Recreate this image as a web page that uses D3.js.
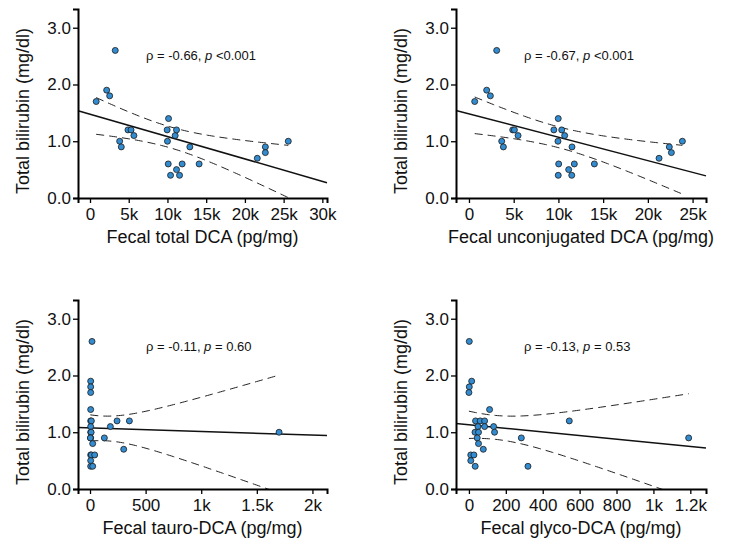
<!DOCTYPE html>
<html>
<head>
<meta charset="utf-8">
<script src="https://cdn.jsdelivr.net/npm/d3@7"></script>
<style>
  body { margin: 0; background: #fff; }
  text { font-family: Arial, "Liberation Sans", sans-serif; fill: #111; }
</style>
</head>
<body>
<svg class="canvas" width="729" height="540"></svg>
<script>
// fecal total DCA (pg/mg) vs total bilirubin (mg/dl)
const totalDCA = [800, 2150, 2540, 3260, 3830, 4040, 4900, 5300, 5670, 10140, 9960, 10000, 10100,
  10400, 11000, 11170, 11170, 11560, 11900, 12890, 14090, 21600, 22640, 22640, 25600];
const totalBili = [1.7, 1.9, 1.8, 2.6, 1.0, 0.9, 1.2, 1.2, 1.1, 1.4, 1.2, 1.0, 0.6,
  0.4, 1.1, 1.2, 0.5, 0.4, 0.6, 0.9, 0.6, 0.7, 0.9, 0.8, 1.0];

// unconjugated DCA
const unconjDCA = [640, 1980, 2390, 3100, 3660, 3850, 4890, 5080, 5490, 9490, 9980, 9950, 10030,
  9980, 10370, 10700, 11150, 11520, 11490, 11780, 14020, 21250, 22400, 22630, 23860];
const unconjBili = [1.7, 1.9, 1.8, 2.6, 1.0, 0.9, 1.2, 1.2, 1.1, 1.2, 1.4, 1.0, 0.6,
  0.4, 1.2, 1.1, 0.5, 0.9, 0.4, 0.6, 0.6, 0.7, 0.9, 0.8, 1.0];

// tauro-DCA
const tauroDCA = [18, 6, 6, 6, 6, 6, 12, 243, 354, 6, 183, 6, 1700, 10, 6, 3, 129, 24,
  303, 6, 12, 42, 6, 6, 24];
const tauroBili = [2.6, 1.9, 1.8, 1.7, 1.4, 1.2, 1.2, 1.2, 1.2, 1.1, 1.1, 1.0, 1.0, 1.0, 0.9, 0.9, 0.9, 0.8,
  0.7, 0.6, 0.6, 0.6, 0.5, 0.4, 0.4];

// glyco-DCA
const glycoDCA = [2, 15, 2, 0, 112, 36, 61, 85, 544, 49, 85, 134, 33, 52, 139, 45, 284, 1191,
  52, 78, 10, 27, 10, 34, 320];
const glycoBili = [2.6, 1.9, 1.8, 1.7, 1.4, 1.2, 1.2, 1.2, 1.2, 1.1, 1.1, 1.1, 1.0, 1.0, 1.0, 0.9, 0.9, 0.9,
  0.8, 0.7, 0.6, 0.6, 0.5, 0.4, 0.4];

const rhoLabels = ["-0.66", "-0.67", "-0.11", "-0.13"];
const pLabels = ["<0.001", "<0.001", "= 0.60", "= 0.53"];
const xTitles = ["Fecal total DCA (pg/mg)", "Fecal unconjugated DCA (pg/mg)",
  "Fecal tauro-DCA (pg/mg)", "Fecal glyco-DCA (pg/mg)"];
const yTitle = "Total bilirubin (mg/dl)";

const xTicks1 = [0, 5000, 10000, 15000, 20000, 25000, 30000];
const xTicks2 = [0, 5000, 10000, 15000, 20000, 25000];
const xTicks3 = [0, 500, 1000, 1500, 2000];
const xTicks4 = [0, 200, 400, 600, 800, 1000, 1200];
const yTicks = [0, 1, 2, 3];

const tCrit = 2.069; // t(0.975, df = 23)

const panels = [
  { xs: totalDCA, ys: totalBili, ticks: xTicks1, left: 78, bottom: 198, width: 249, xDomain: [-1550, 30600] },
  { xs: unconjDCA, ys: unconjBili, ticks: xTicks2, left: 456, bottom: 198, width: 250, xDomain: [-1450, 26500] },
  { xs: tauroDCA, ys: tauroBili, ticks: xTicks3, left: 78, bottom: 489, width: 249, xDomain: [-108, 2131] },
  { xs: glycoDCA, ys: glycoBili, ticks: xTicks4, left: 456, bottom: 489, width: 250, xDomain: [-70, 1285] },
];

const plotHeight = 189;
const svg = d3.select(".canvas");

const kFormat = (d) => {
  if (d === 0) return "0";
  if (d >= 1000) return d / 1000 + "k";
  return d;
};

function fit(xs, ys) {
  const n = xs.length;
  const mx = d3.mean(xs);
  const my = d3.mean(ys);
  let sxx = 0, sxy = 0;
  xs.forEach((x, i) => {
    sxx += (x - mx) * (x - mx);
    sxy += (x - mx) * (ys[i] - my);
  });
  const slope = sxy / sxx;
  const icpt = my - slope * mx;
  let sse = 0;
  xs.forEach((x, i) => {
    const r = ys[i] - (icpt + slope * x);
    sse += r * r;
  });
  const s = Math.sqrt(sse / (n - 2));
  return {
    f: (x) => icpt + slope * x,
    half: (x) => tCrit * s * Math.sqrt(1 / n + ((x - mx) * (x - mx)) / sxx),
  };
}

panels.forEach((p, i) => {
  const x = d3.scaleLinear().domain(p.xDomain).range([p.left, p.left + p.width]);
  const y = d3.scaleLinear().domain([0, 3.33]).range([p.bottom, p.bottom - plotHeight]);

  const g = svg.append("g");

  g.append("clipPath")
    .attr("id", "clip" + i)
    .append("rect")
    .attr("x", p.left)
    .attr("y", p.bottom - plotHeight)
    .attr("width", p.width + 10)
    .attr("height", plotHeight);

  const m = fit(p.xs, p.ys);
  const lo = d3.min(p.xs), hi = d3.max(p.xs);
  const grid = d3.range(0, 101).map((k) => lo + ((hi - lo) * k) / 100);

  const line = d3.line().x((d) => x(d[0])).y((d) => y(d[1]));

  const bands = g.append("g").attr("clip-path", `url(#clip${i})`);
  [1, -1].forEach((sgn) => {
    bands.append("path")
      .attr("d", line(grid.map((v) => [v, m.f(v) + sgn * m.half(v)])))
      .attr("fill", "none")
      .attr("stroke", "#222")
      .attr("stroke-width", 1)
      .attr("stroke-dasharray", "8,5");
  });

  g.append("path")
    .attr("d", line(p.xDomain.map((v) => [v, m.f(v)])))
    .attr("fill", "none")
    .attr("stroke", "#111")
    .attr("stroke-width", 1.5);

  g.selectAll("circle")
    .data(p.xs.map((v, k) => [v, p.ys[k]]))
    .enter()
    .append("circle")
    .attr("cx", (d) => x(d[0]))
    .attr("cy", (d) => y(d[1]))
    .attr("r", 3)
    .attr("fill", "#338cd0")
    .attr("stroke", "#1a1a1a")
    .attr("stroke-width", 0.8);

  // axes
  const xAxis = g.append("g")
    .attr("transform", `translate(0,${p.bottom})`)
    .call(d3.axisBottom(x).tickValues(p.ticks).tickFormat(kFormat).tickSizeOuter(0).tickSize(5).tickPadding(5));
  const yAxis = g.append("g")
    .attr("transform", `translate(${p.left},0)`)
    .call(d3.axisLeft(y).tickValues(yTicks).tickFormat(d3.format(".1f")).tickSizeOuter(0).tickSize(5).tickPadding(2));

  [xAxis, yAxis].forEach((a) => {
    a.select(".domain").attr("stroke", "#000").attr("stroke-width", 2);
    a.selectAll(".tick line").attr("stroke", "#000").attr("stroke-width", 1.3);
    a.selectAll("text").attr("font-size", 17).attr("fill", "#111");
  });

  // titles
  g.append("text")
    .attr("x", p.left + p.width / 2)
    .attr("y", p.bottom + 45)
    .attr("text-anchor", "middle")
    .attr("font-size", 18)
    .text(xTitles[i]);

  g.append("text")
    .attr("transform", `translate(${p.left - 49},${p.bottom - 87}) rotate(-90)`)
    .attr("text-anchor", "middle")
    .attr("font-size", 18)
    .text(yTitle);

  const note = g.append("text")
    .attr("x", p.left + 68)
    .attr("y", p.bottom - 138)
    .attr("font-size", 13);
  note.append("tspan").text(`ρ = ${rhoLabels[i]}, `);
  note.append("tspan").attr("font-style", "italic").text("p");
  note.append("tspan").text(" " + pLabels[i]);
});
</script>
</body>
</html>
